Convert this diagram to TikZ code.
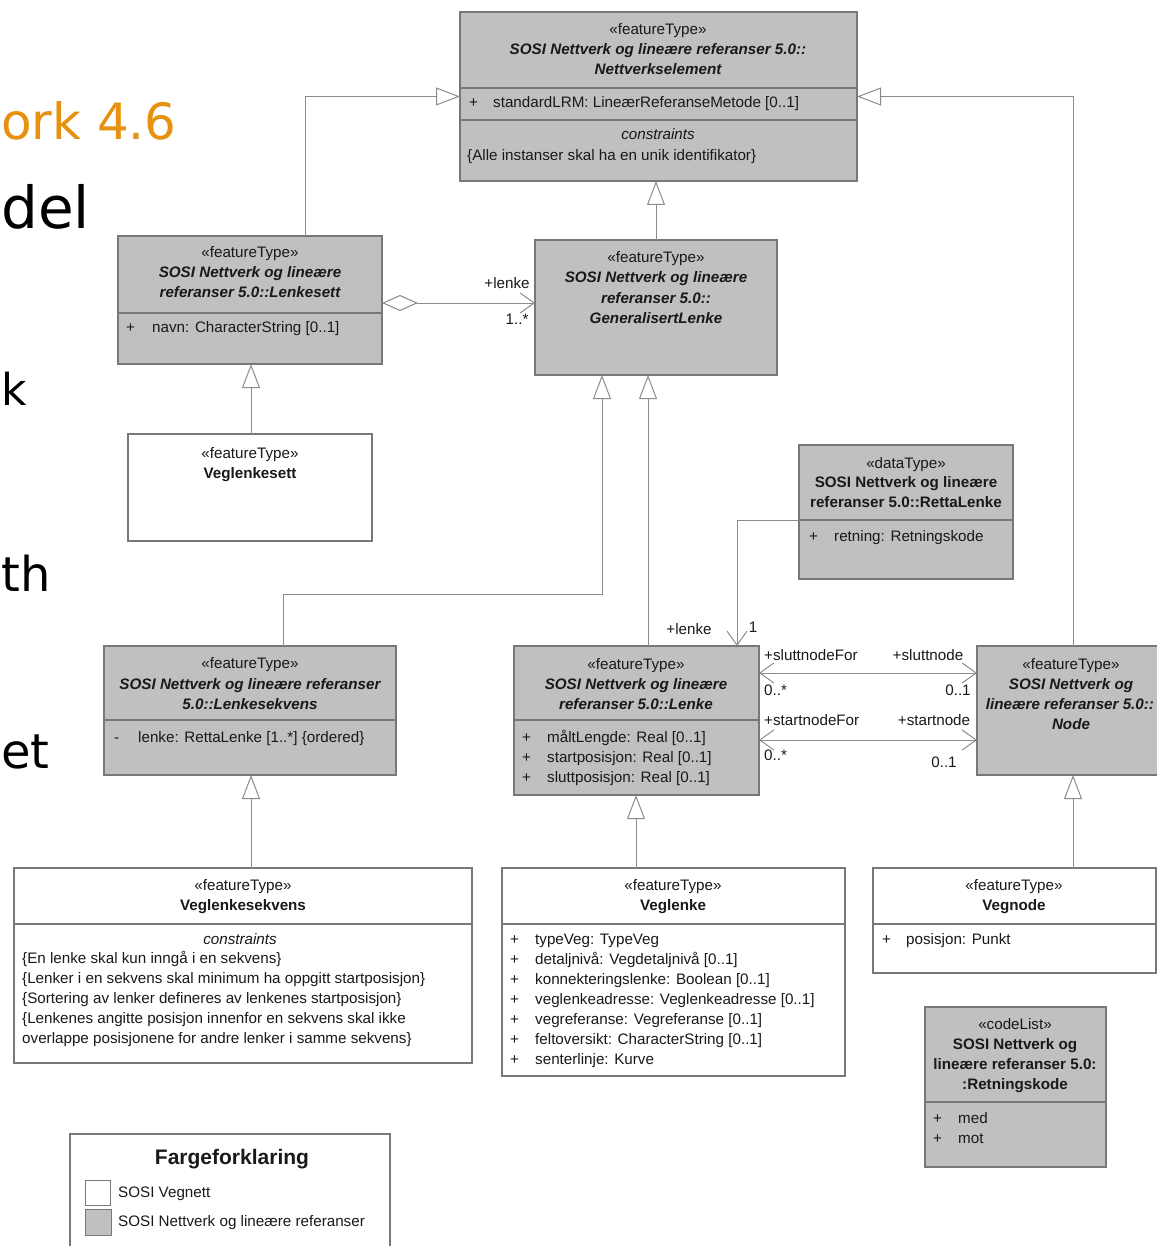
\documentclass[tikz,border=0pt]{standalone}
\usepackage{fontspec}
\setmainfont{Liberation Sans}
\newfontfamily\slidefont{DejaVu Sans}
\usetikzlibrary{arrows.meta}
\definecolor{clsfill}{RGB}{192,192,192}
\definecolor{clsborder}{RGB}{120,120,120}
\definecolor{linkgray}{RGB}{140,140,140}
\definecolor{txtgray}{RGB}{25,25,25}
\definecolor{slideorange}{RGB}{232,145,14}
% class rectangle from (x1,y1) to (x2,y2), y measured downwards
\newcommand{\classbox}[6]{\node[#1, anchor=north west, minimum width={(#5-#3)*1pt}, minimum height={(#6-#4)*1pt}] (#2) at (#3,#4) {};}
\newcommand{\compline}[2]{\draw[divider] (#1.west |- 0,#2) -- (#1.east |- 0,#2);}
\newcommand{\umlsize}{\fontsize{15.2}{18}\selectfont}
\tikzset{
  grayclass/.style={draw=clsborder, fill=clsfill, line width=1.2pt, inner sep=0pt, outer sep=0pt},
  whiteclass/.style={draw=clsborder, fill=white, line width=1.2pt, inner sep=0pt, outer sep=0pt},
  divider/.style={draw=clsborder, line width=1.2pt},
  txt/.style={inner sep=0pt, text=txtgray, font=\umlsize},
  hd/.style={txt, anchor=base},
  attr/.style={txt, anchor=base west},
  bi/.style={hd, font=\umlsize\bfseries\itshape},
  bo/.style={hd, font=\umlsize\bfseries},
  it/.style={hd, font=\umlsize\itshape},
  link/.style={draw=linkgray, line width=1pt},
  gen/.style={link, -{Triangle[open, length=24pt, width=18pt, fill=white]}},
  nav/.style={link, -{Straight Barb[length=14pt, width=20pt]}},
  bothnav/.style={link, {Straight Barb[length=14pt, width=20pt]}-{Straight Barb[length=14pt, width=20pt]}},
  agg/.style={link, {Diamond[open, length=36pt, width=16pt, fill=white]}-{Straight Barb[length=14pt, width=20pt]}},
  slide/.style={inner sep=0pt, anchor=base west},
}
\begin{document}
\begin{tikzpicture}[x=1pt, y=-1pt]
\useasboundingbox (0,0) rectangle (1157,1246);
\fill[white] (0,0) rectangle (1157,1246);

% slide text behind the diagram
\node[slide, text=slideorange, font=\slidefont\fontsize{50}{58}\selectfont] (s1) at (1,140) {ork 4.6};
\node[slide, text=black, font=\slidefont\fontsize{58}{66}\selectfont] (s2) at (1,229) {del};
\node[slide, text=black, font=\slidefont\fontsize{44}{52}\selectfont] (s3) at (1,405) {k};
\node[slide, text=black, font=\slidefont\fontsize{48}{56}\selectfont] (s4) at (1,591) {th};
\node[slide, text=black, font=\slidefont\fontsize{48}{56}\selectfont] (s5) at (1,768) {et};

% ---------- class boxes ----------
\classbox{grayclass}{NE}{460}{12}{857}{181}
\classbox{grayclass}{LS}{118}{236}{382}{364}
\classbox{grayclass}{GL}{535}{240}{777}{375}
\classbox{whiteclass}{VS}{128}{434}{372}{541}
\classbox{grayclass}{RL}{799}{445}{1013}{579}
\classbox{grayclass}{LQ}{104}{646}{396}{775}
\classbox{grayclass}{LK}{514}{646}{759}{795}
\classbox{whiteclass}{VQ}{14}{868}{472}{1063}
\classbox{whiteclass}{VL}{502}{868}{845}{1076}
\classbox{whiteclass}{VN}{873}{868}{1156}{973}
\classbox{grayclass}{RK}{925}{1007}{1106}{1167}
% Node runs on past the right border: drawn open on that side
\coordinate (ndNW) at (977,646);
\coordinate (ndSE) at (1157,775);
\fill[clsfill] (ndNW) rectangle (ndSE);
\draw[divider] (ndSE |- ndNW) -- (ndNW) -- (ndNW |- ndSE) -- (ndSE);
\node[inner sep=0pt, outer sep=0pt, anchor=north west, minimum width=180pt, minimum height=129pt] (ND) at (ndNW) {};
% legend frame, running on past the lower border
\coordinate (lgNW) at (70,1134);
\coordinate (lgSE) at (390,1246);
\draw[draw=clsborder, line width=1.2pt] (lgNW |- lgSE) -- (lgNW) -- (lgSE |- lgNW) -- (lgSE);
\node[inner sep=0pt, outer sep=0pt, anchor=north west, minimum width=320pt, minimum height=112pt] (LG) at (lgNW) {};

% compartments
\compline{NE}{88}
\compline{NE}{120}
\compline{LS}{313}
\compline{RL}{520}
\compline{LQ}{720}
\compline{LK}{720}
\compline{VQ}{924}
\compline{VL}{924}
\compline{VN}{924}
\compline{RK}{1102}

% ---------- Nettverkselement ----------
\node[hd] (NE-s) at (658,35) {«featureType»};
\node[bi] (NE-n1) at (658,55) {SOSI Nettverk og lineære referanser 5.0::};
\node[bi] (NE-n2) at (658,75) {Nettverkselement};
\node[attr] (NE-p) at (469,108) {+};
\node[attr] (NE-a) at (493,108) {standardLRM: LineærReferanseMetode [0..1]};
\node[it] (NE-c) at (658,140) {constraints};
\node[attr] (NE-c1) at (467,161) {\{Alle instanser skal ha en unik identifikator\}};

% ---------- Lenkesett ----------
\node[hd] (LS-s) at (250,258) {«featureType»};
\node[bi] (LS-n1) at (250,278) {SOSI Nettverk og lineære};
\node[bi] (LS-n2) at (250,298) {referanser 5.0::Lenkesett};
\node[attr] (LS-p) at (126,332) {+};
\node[attr] (LS-a) at (152,332) {navn: CharacterString [0..1]};

% ---------- GeneralisertLenke ----------
\node[hd] (GL-s) at (656,263) {«featureType»};
\node[bi] (GL-n1) at (656,283) {SOSI Nettverk og lineære};
\node[bi] (GL-n2) at (656,303) {referanser 5.0::};
\node[bi] (GL-n3) at (656,323) {GeneralisertLenke};

% ---------- Veglenkesett ----------
\node[hd] (VS-s) at (250,458) {«featureType»};
\node[bo] (VS-n) at (250,478) {Veglenkesett};

% ---------- RettaLenke ----------
\node[hd] (RL-s) at (906,468) {«dataType»};
\node[bo] (RL-n1) at (906,487) {SOSI Nettverk og lineære};
\node[bo] (RL-n2) at (906,507) {referanser 5.0::RettaLenke};
\node[attr] (RL-p) at (809,541) {+};
\node[attr] (RL-a) at (834,541) {retning: Retningskode};

% ---------- Lenkesekvens ----------
\node[hd] (LQ-s) at (250,668) {«featureType»};
\node[bi] (LQ-n1) at (250,689) {SOSI Nettverk og lineære referanser};
\node[bi] (LQ-n2) at (250,709) {5.0::Lenkesekvens};
\node[attr] (LQ-p) at (114,742) {-};
\node[attr] (LQ-a) at (138,742) {lenke: RettaLenke [1..*] \{ordered\}};

% ---------- Lenke ----------
\node[hd] (LK-s) at (636,669) {«featureType»};
\node[bi] (LK-n1) at (636,689) {SOSI Nettverk og lineære};
\node[bi] (LK-n2) at (636,709) {referanser 5.0::Lenke};
\node[attr] (LK-p1) at (522,742) {+};
\node[attr] (LK-p2) at (522,762) {+};
\node[attr] (LK-p3) at (522,782) {+};
\node[attr] (LK-a1) at (547,742) {måltLengde: Real [0..1]};
\node[attr] (LK-a2) at (547,762) {startposisjon: Real [0..1]};
\node[attr] (LK-a3) at (547,782) {sluttposisjon: Real [0..1]};

% ---------- Node ----------
\node[hd] (ND-s) at (1071,669) {«featureType»};
\node[bi] (ND-n1) at (1071,689) {SOSI Nettverk og};
\node[bi] (ND-n2) at (1070,709) {lineære referanser 5.0::};
\node[bi] (ND-n3) at (1071,729) {Node};

% ---------- Veglenkesekvens ----------
\node[hd] (VQ-s) at (243,890) {«featureType»};
\node[bo] (VQ-n) at (243,910) {Veglenkesekvens};
\node[it] (VQ-c) at (240,944) {constraints};
\node[attr] (VQ-c1) at (22,963) {\{En lenke skal kun inngå i en sekvens\}};
\node[attr] (VQ-c2) at (22,983) {\{Lenker i en sekvens skal minimum ha oppgitt startposisjon\}};
\node[attr] (VQ-c3) at (22,1003) {\{Sortering av lenker defineres av lenkenes startposisjon\}};
\node[attr] (VQ-c4) at (22,1023) {\{Lenkenes angitte posisjon innenfor en sekvens skal ikke};
\node[attr] (VQ-c5) at (22,1043) {overlappe posisjonene for andre lenker i samme sekvens\}};

% ---------- Veglenke ----------
\node[hd] (VL-s) at (673,890) {«featureType»};
\node[bo] (VL-n) at (673,910) {Veglenke};
\foreach \k/\yy in {1/944,2/964,3/984,4/1004,5/1024,6/1044,7/1064}
  \node[attr] (VL-p\k) at (510,\yy) {+};
\node[attr] (VL-a1) at (535,944) {typeVeg: TypeVeg};
\node[attr] (VL-a2) at (535,964) {detaljnivå: Vegdetaljnivå [0..1]};
\node[attr] (VL-a3) at (535,984) {konnekteringslenke: Boolean [0..1]};
\node[attr] (VL-a4) at (535,1004) {veglenkeadresse: Veglenkeadresse [0..1]};
\node[attr] (VL-a5) at (535,1024) {vegreferanse: Vegreferanse [0..1]};
\node[attr] (VL-a6) at (535,1044) {feltoversikt: CharacterString [0..1]};
\node[attr] (VL-a7) at (535,1064) {senterlinje: Kurve};

% ---------- Vegnode ----------
\node[hd] (VN-s) at (1014,890) {«featureType»};
\node[bo] (VN-n) at (1014,910) {Vegnode};
\node[attr] (VN-p) at (882,944) {+};
\node[attr] (VN-a) at (906,944) {posisjon: Punkt};

% ---------- Retningskode ----------
\node[hd] (RK-s) at (1015,1029) {«codeList»};
\node[bo] (RK-n1) at (1015,1049) {SOSI Nettverk og};
\node[bo] (RK-n2) at (1015,1069) {lineære referanser 5.0:};
\node[bo] (RK-n3) at (1015,1089) {:Retningskode};
\node[attr] (RK-p1) at (933,1123) {+};
\node[attr] (RK-p2) at (933,1143) {+};
\node[attr] (RK-a1) at (958,1123) {med};
\node[attr] (RK-a2) at (958,1143) {mot};

% ---------- legend ----------
\node[hd, font=\fontsize{21}{25}\selectfont\bfseries] (LG-t) at (232,1164) {Fargeforklaring};
\node[draw=clsborder, fill=white, line width=1pt, minimum size=25pt, inner sep=0pt, anchor=north west] (LG-w) at (85,1180) {};
\node[draw=clsborder, fill=clsfill, line width=1pt, minimum size=26pt, inner sep=0pt, anchor=north west] (LG-g) at (85,1209) {};
\node[attr] (LG-w1) at (118,1197) {SOSI Vegnett};
\node[attr] (LG-g1) at (118,1226) {SOSI Nettverk og lineære referanser};

% ---------- generalisations ----------
\draw[gen] (305,0 |- LS.north) |- (NE.west);
\draw[gen] (GL.north) -- (GL.north |- NE.south);
\draw[gen] (1073,0 |- ND.north) |- (NE.east);
\draw[gen] (251,0 |- VS.north) -- (251,0 |- LS.south);
\coordinate (bendLQ) at (602,594);
\draw[gen] (283,0 |- LQ.north) |- (bendLQ) -- (bendLQ |- GL.south);
\draw[gen] (648,0 |- LK.north) -- (648,0 |- GL.south);
\draw[gen] (636,0 |- VL.north) -- (636,0 |- LK.south);
\draw[gen] (251,0 |- VQ.north) -- (251,0 |- LQ.south);
\draw[gen] (1073,0 |- VN.north) -- (1073,0 |- ND.south);

% ---------- associations ----------
\draw[agg] (LS.east |- 0,303) -- (GL.west |- 0,303);
\node[hd] (A1-r) at (507,289) {+lenke};
\node[hd] (A1-m) at (517,324) {1..*};

\draw[nav] (RL.west |- 0,520) -| (737,0 |- LK.north);
\node[hd] (A2-r) at (689,634) {+lenke};
\node[hd] (A2-m) at (753,632) {1};

\draw[bothnav] (LK.east |- 0,673) -- (ND.west |- 0,673);
\node[attr] (A3-r1) at (764,660) {+sluttnodeFor};
\node[attr] (A3-m1) at (764,695) {0..*};
\node[hd] (A3-r2) at (928,660) {+sluttnode};
\node[hd] (A3-m2) at (958,695) {0..1};

\draw[bothnav] (LK.east |- 0,740) -- (ND.west |- 0,740);
\node[attr] (A4-r1) at (764,725) {+startnodeFor};
\node[attr] (A4-m1) at (764,760) {0..*};
\node[hd] (A4-r2) at (934,725) {+startnode};
\node[hd] (A4-m2) at (944,767) {0..1};
\end{tikzpicture}
\end{document}
